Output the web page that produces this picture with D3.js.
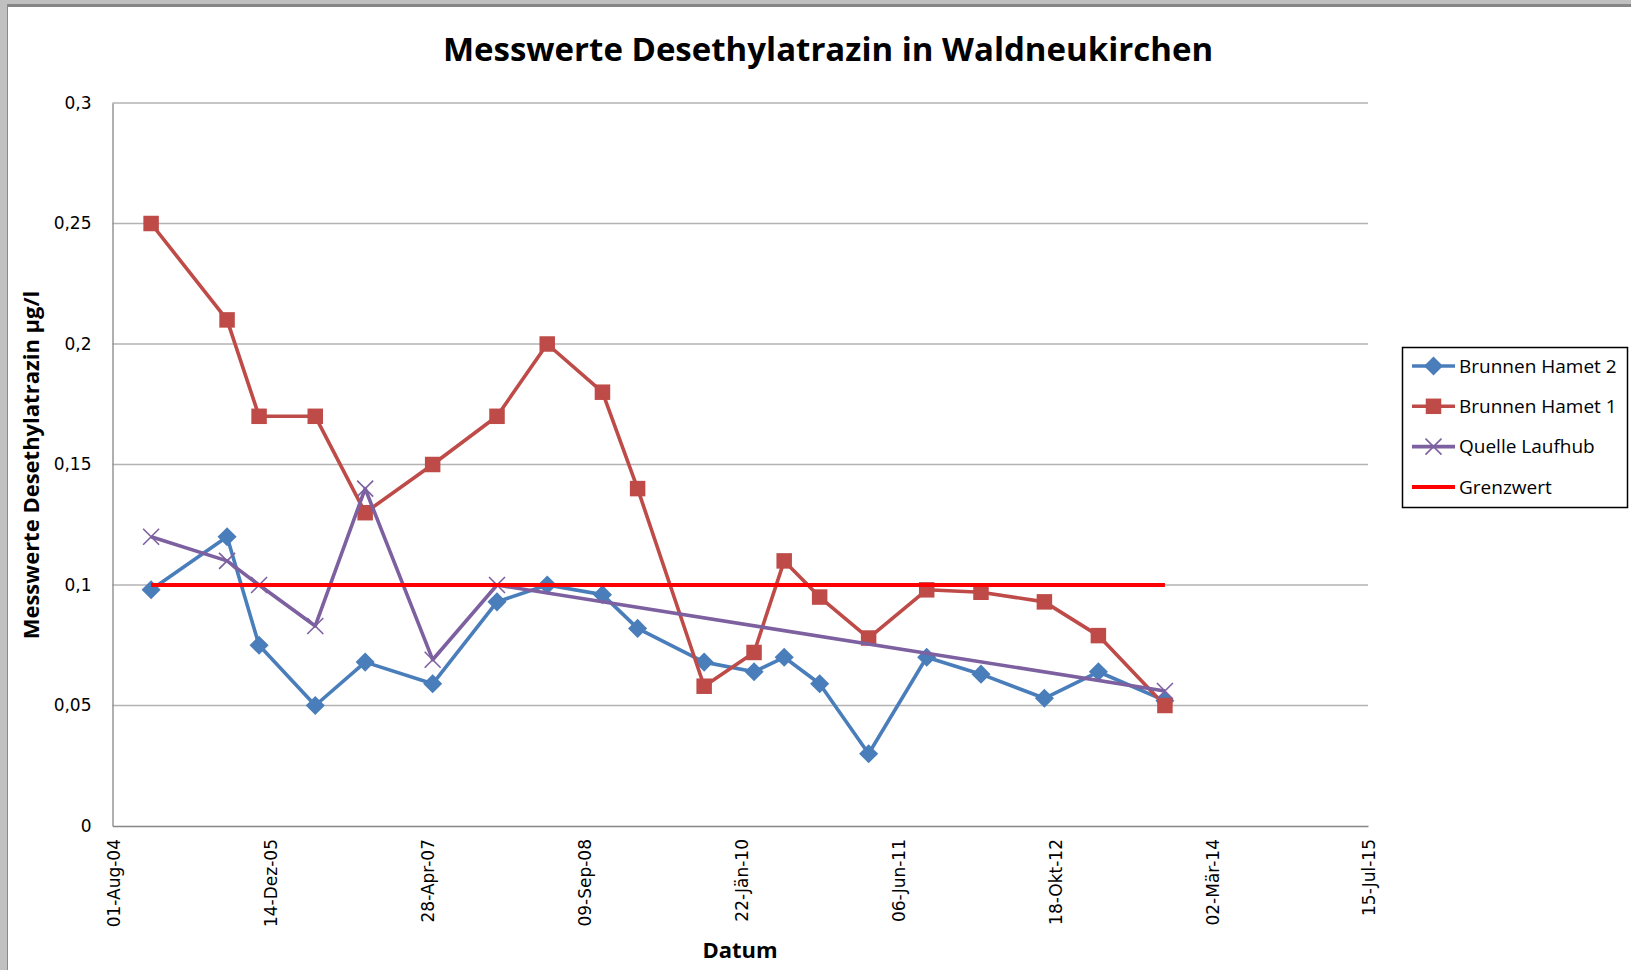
<!DOCTYPE html>
<html>
<head>
<meta charset="utf-8">
<script src="https://cdn.jsdelivr.net/npm/d3@7"></script>
<style>
  body { margin: 0; background: #fff; }
  svg { display: block; }
</style>
</head>
<body>
<div id="chart"></div>
<script>
const messDaten = ["2004-12-02", "2005-08-01", "2005-11-11", "2006-05-09", "2006-10-15",
    "2007-05-18", "2007-12-09", "2008-05-17", "2008-11-09", "2009-03-01",
    "2009-09-29", "2010-03-07", "2010-06-11", "2010-10-02", "2011-03-07",
    "2011-09-08", "2012-02-28", "2012-09-17", "2013-03-08", "2013-10-06"];
const hamet2 = [0.098, 0.12, 0.075, 0.05, 0.068, 0.059, 0.093, 0.1, 0.096, 0.082,
    0.068, 0.064, 0.07, 0.059, 0.03, 0.07, 0.063, 0.053, 0.064, 0.052];
const hamet1 = [0.25, 0.21, 0.17, 0.17, 0.13, 0.15, 0.17, 0.2, 0.18, 0.14,
    0.058, 0.072, 0.11, 0.095, 0.078, 0.098, 0.097, 0.093, 0.079, 0.05];
const laufhubDaten = ["2004-12-02", "2005-08-01", "2005-11-11", "2006-05-09", "2006-10-15",
    "2007-05-18", "2007-12-09", "2013-10-06"];
const laufhub = [0.12, 0.11, 0.1, 0.083, 0.14, 0.069, 0.1, 0.056];
const grenzDaten = ["2004-12-02", "2013-10-06"];
const grenzwert = [0.1, 0.1];

const xTickDaten = ["2004-08-01", "2005-12-14", "2007-04-28", "2008-09-09", "2010-01-22",
    "2011-06-06", "2012-10-18", "2014-03-02", "2015-07-15"];
const xTickLabels = ["01-Aug-04", "14-Dez-05", "28-Apr-07", "09-Sep-08", "22-Jän-10",
    "06-Jun-11", "18-Okt-12", "02-Mär-14", "15-Jul-15"];
const yTicks = [0, 0.05, 0.1, 0.15, 0.2, 0.25, 0.3];
const yTickLabels = ["0", "0,05", "0,1", "0,15", "0,2", "0,25", "0,3"];

const width = 1631, height = 970;
const plot = { left: 112.5, right: 1368, top: 103, bottom: 826 };
const parse = d3.utcParse("%Y-%m-%d");

const svg = d3.select("#chart").append("svg")
    .attr("width", width)
    .attr("height", height);

// Rahmen
svg.append("rect").attr("x", 0).attr("y", 0).attr("width", width).attr("height", 4).attr("fill", "#c0c0c0");
svg.append("rect").attr("x", 0).attr("y", 0).attr("width", 7).attr("height", height).attr("fill", "#c0c0c0");
svg.append("rect").attr("x", 7).attr("y", 4).attr("width", width - 7).attr("height", 3).attr("fill", "#868686");
svg.append("rect").attr("x", 7).attr("y", 4).attr("width", 1).attr("height", height - 4).attr("fill", "#8a8a8a");

const x = d3.scaleUtc()
    .domain([parse(xTickDaten[0]), parse(xTickDaten[xTickDaten.length - 1])])
    .range([plot.left, plot.right]);

const y = d3.scaleLinear()
    .domain([0, 0.3])
    .range([plot.bottom, plot.top]);

// Gitternetz
svg.append("g")
    .selectAll("line")
    .data(yTicks.slice(1))
    .enter()
    .append("line")
    .attr("x1", plot.left)
    .attr("x2", plot.right)
    .attr("y1", d => y(d))
    .attr("y2", d => y(d))
    .style("stroke", "#b3b3b3")
    .style("stroke-width", 1.3);

// Achsen
const yAxis = svg.append("g")
    .attr("transform", "translate(" + plot.left + ",0)")
    .call(d3.axisLeft(y).tickValues(yTicks).tickSize(0).tickPadding(21)
        .tickFormat((d, i) => yTickLabels[i]));
yAxis.select(".domain").style("stroke", "#868686").style("stroke-width", 1.3);
yAxis.selectAll("text")
    .style("font-family", "'DejaVu Sans', Verdana, sans-serif")
    .style("font-size", "17px")
    .style("fill", "#000");

const xAxis = svg.append("g")
    .attr("transform", "translate(0," + plot.bottom + ")")
    .call(d3.axisBottom(x).tickValues(xTickDaten.map(parse)).tickSize(0)
        .tickFormat((d, i) => xTickLabels[i]));
xAxis.select(".domain").style("stroke", "#868686").style("stroke-width", 1.3);
xAxis.selectAll("text")
    .attr("transform", "rotate(-90)")
    .attr("text-anchor", "end")
    .attr("x", -13)
    .attr("y", 1)
    .attr("dy", "0.35em")
    .style("font-family", "'DejaVu Sans', Verdana, sans-serif")
    .style("font-size", "17px")
    .style("fill", "#000");

// Titel
svg.append("text")
    .attr("x", 828)
    .attr("y", 61)
    .attr("text-anchor", "middle")
    .style("font-family", "'Open Sans', sans-serif")
    .style("font-weight", "bold")
    .style("font-size", "33px")
    .text("Messwerte Desethylatrazin in Waldneukirchen");

svg.append("text")
    .attr("transform", "translate(39,465) rotate(-90)")
    .attr("text-anchor", "middle")
    .style("font-family", "'Open Sans', sans-serif")
    .style("font-weight", "bold")
    .style("font-size", "22px")
    .text("Messwerte Desethylatrazin µg/l");

svg.append("text")
    .attr("x", 740)
    .attr("y", 958)
    .attr("text-anchor", "middle")
    .style("font-family", "'Open Sans', sans-serif")
    .style("font-weight", "bold")
    .style("font-size", "22px")
    .text("Datum");

// Reihen
const series = [
    { name: "Brunnen Hamet 2", dates: messDaten, values: hamet2, color: "#4a7ebb", marker: "diamond" },
    { name: "Brunnen Hamet 1", dates: messDaten, values: hamet1, color: "#be4b48", marker: "square" },
    { name: "Quelle Laufhub", dates: laufhubDaten, values: laufhub, color: "#7d60a0", marker: "cross" },
    { name: "Grenzwert", dates: grenzDaten, values: grenzwert, color: "#ff0000", marker: null }
];

const line = d3.line()
    .x(d => x(d.date))
    .y(d => y(d.value));

function drawMarker(g, type, color) {
    if (type === "diamond") {
        g.append("path")
            .attr("d", d3.symbol().type(d3.symbolSquare).size(13.5 * 13.5)())
            .attr("transform", "rotate(45)")
            .style("fill", color);
    } else if (type === "square") {
        g.append("path")
            .attr("d", d3.symbol().type(d3.symbolSquare).size(15.5 * 15.5)())
            .style("fill", color);
    } else if (type === "cross") {
        g.append("path")
            .attr("d", "M-8,-8L8,8M-8,8L8,-8")
            .style("fill", "none")
            .style("stroke", color)
            .style("stroke-width", 1.6);
    }
}

series.forEach(s => {
    const pts = s.dates.map((d, i) => ({ date: parse(d), value: s.values[i] }));
    const g = svg.append("g");
    g.append("path")
        .datum(pts)
        .attr("d", line)
        .style("fill", "none")
        .style("stroke", s.color)
        .style("stroke-width", s.marker ? 3.6 : 4)
        .style("stroke-linejoin", "round");
    if (s.marker) {
        g.selectAll("g")
            .data(pts)
            .enter()
            .append("g")
            .attr("transform", d => "translate(" + x(d.date) + "," + y(d.value) + ")")
            .each(function () { drawMarker(d3.select(this), s.marker, s.color); });
    }
});

// Legende
const legend = svg.append("g");
legend.append("rect")
    .attr("x", 1402.5)
    .attr("y", 347.5)
    .attr("width", 225)
    .attr("height", 160)
    .style("fill", "#fff")
    .style("stroke", "#000")
    .style("stroke-width", 1.5);

const legendItem = legend.selectAll("g")
    .data(series)
    .enter()
    .append("g")
    .attr("transform", (d, i) => "translate(1412," + (366 + i * 40.3) + ")");

legendItem.append("line")
    .attr("x1", 0)
    .attr("x2", 43)
    .style("stroke", d => d.color)
    .style("stroke-width", d => d.marker ? 3.6 : 4);

legendItem.each(function (d) {
    if (d.marker) {
        const m = d3.select(this).append("g").attr("transform", "translate(21.5,0)");
        drawMarker(m, d.marker, d.color);
    }
});

legendItem.append("text")
    .attr("x", 47)
    .attr("dy", "0.35em")
    .style("font-family", "'Open Sans', sans-serif")
    .style("font-size", "19px")
    .text(d => d.name);
</script>
</body>
</html>
